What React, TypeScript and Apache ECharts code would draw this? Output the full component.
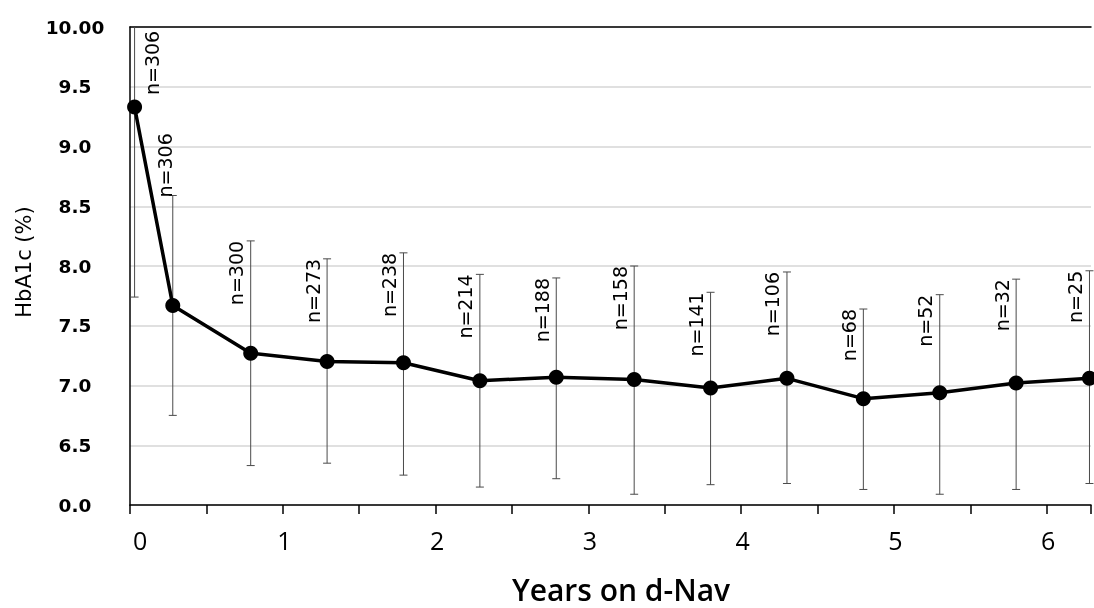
import { useEffect, useRef } from "react";
import * as echarts from "echarts";

// ---- data ----
const years = [0.03, 0.28, 0.79, 1.29, 1.79, 2.29, 2.79, 3.3, 3.8, 4.3, 4.8, 5.3, 5.8, 6.28];
const hba1cMean = [9.33, 7.67, 7.27, 7.2, 7.19, 7.04, 7.07, 7.05, 6.98, 7.06, 6.89, 6.94, 7.02, 7.06];
const errUpper = [10.92, 8.59, 8.21, 8.06, 8.11, 7.93, 7.9, 8.0, 7.78, 7.95, 7.64, 7.76, 7.89, 7.96];
const errLower = [7.74, 6.75, 6.33, 6.35, 6.25, 6.15, 6.22, 6.09, 6.17, 6.18, 6.13, 6.09, 6.13, 6.18];
const nPatients = [306, 306, 300, 273, 238, 214, 188, 158, 141, 106, 68, 52, 32, 25];
const yTickLabels = ["0.0", "6.5", "7.0", "7.5", "8.0", "8.5", "9.0", "9.5", "10.00"];
const xTickLabels = ["0", "1", "2", "3", "4", "5", "6"];

const Y_MIN = 6;
const Y_MAX = 10;
const X_MAX = 6.29;

export default function App() {
  const ref = useRef<HTMLDivElement>(null);

  useEffect(() => {
    const chart = echarts.init(ref.current!, null, { renderer: "svg" });

    const linePts = years.map((x, i) => [x, hba1cMean[i]]);
    const errData = years.map((x, i) => [x, errLower[i], errUpper[i]]);
    const labelData = years.map((x, i) => [x, errUpper[i], nPatients[i], hba1cMean[i]]);

    const axisColor = "#000";

    chart.setOption({
      animation: false,
      grid: { left: 130, top: 27, right: -1, bottom: 103, containLabel: false },
      xAxis: [
        {
          type: "value",
          min: 0,
          max: X_MAX,
          interval: 0.5,
          axisLine: { show: true, onZero: false, lineStyle: { color: axisColor, width: 1.5 } },
          axisTick: { show: true, length: 9, lineStyle: { color: axisColor, width: 1.5 } },
          axisLabel: {
            formatter: (v: number) => {
              const r = Math.round(v);
              return Math.abs(v - r) < 1e-6 && xTickLabels[r] !== undefined ? xTickLabels[r] : "";
            },
            fontFamily: "Open Sans",
            fontSize: 25,
            color: "#000",
            margin: 22,
            alignMinLabel: "left",
            padding: [0, 0, 0, 3],
          },
          splitLine: { show: false },
        },
        {
          type: "value",
          position: "top",
          min: 0,
          max: X_MAX,
          axisLine: { show: true, onZero: false, lineStyle: { color: axisColor, width: 1.5 } },
          axisTick: { show: false },
          axisLabel: { show: false },
          splitLine: { show: false },
        },
      ],
      yAxis: {
        type: "value",
        min: Y_MIN,
        max: Y_MAX,
        interval: 0.5,
        axisLine: { show: true, onZero: false, lineStyle: { color: axisColor, width: 1.5 } },
        axisTick: { show: false },
        axisLabel: {
          formatter: (v: number) => yTickLabels[Math.round((v - Y_MIN) / 0.5)] ?? "",
          fontFamily: "DejaVu Sans",
          fontWeight: "bold",
          fontSize: 18.5,
          color: "#000",
          margin: 55,
          align: "center",
        },
        splitLine: { show: true, lineStyle: { color: "#d6d6d6", width: 1.5 } },
      },
      graphic: [
        {
          type: "text",
          x: 24,
          y: 262,
          rotation: Math.PI / 2,
          style: {
            text: "HbA1c (%)",
            align: "center",
            verticalAlign: "middle",
            textAlign: "center",
            textVerticalAlign: "middle",
            fontFamily: "DejaVu Sans",
            fontSize: 21,
            fill: "#000",
          },
        },
        {
          type: "text",
          x: 621,
          y: 589,
          style: {
            text: "Years on d-Nav",
            align: "center",
            verticalAlign: "middle",
            textAlign: "center",
            textVerticalAlign: "middle",
            fontFamily: "Open Sans",
            fontWeight: 600,
            fontSize: 30,
            fill: "#000",
          },
        },
      ],
      series: [
        {
          type: "custom",
          name: "error",
          z: 1,
          data: errData,
          encode: { x: 0, y: [1, 2] },
          renderItem: (params: any, api: any) => {
            const x = api.value(0);
            const lo = api.value(1);
            const hi = api.value(2);
            const hiC = Math.min(hi, Y_MAX);
            const pLo = api.coord([x, lo]);
            const pHi = api.coord([x, hiC]);
            const capW = 4;
            const style = { stroke: "#4a4a4a", lineWidth: 1 };
            const children: any[] = [
              { type: "line", shape: { x1: pLo[0], y1: pLo[1], x2: pHi[0], y2: pHi[1] }, style },
              { type: "line", shape: { x1: pLo[0] - capW, y1: pLo[1], x2: pLo[0] + capW, y2: pLo[1] }, style },
            ];
            if (hi <= Y_MAX) {
              children.push({
                type: "line",
                shape: { x1: pHi[0] - capW, y1: pHi[1], x2: pHi[0] + capW, y2: pHi[1] },
                style,
              });
            }
            return { type: "group", children };
          },
        },
        {
          type: "line",
          name: "HbA1c",
          z: 3,
          data: linePts,
          symbol: "circle",
          symbolSize: 15,
          lineStyle: { color: "#000", width: 3.5 },
          itemStyle: { color: "#000" },
        },
        {
          type: "custom",
          name: "labels",
          z: 4,
          data: labelData,
          encode: { x: 0, y: 1 },
          renderItem: (params: any, api: any) => {
            const i = params.dataIndex;
            const x = api.value(0);
            const hi = Math.min(api.value(1), Y_MAX);
            const n = api.value(2);
            const mean = api.value(3);
            let px: number;
            let py: number;
            let align = "right";
            if (i === 0) {
              const p = api.coord([x, mean]);
              px = p[0] + 17;
              py = p[1] - 12;
              align = "left";
            } else if (i === 1) {
              const p = api.coord([x, hi]);
              px = p[0] - 8;
              py = p[1] + 2;
              align = "left";
            } else {
              const p = api.coord([x, hi]);
              px = p[0] - 14.5;
              py = p[1];
            }
            return {
              type: "text",
              x: px,
              y: py,
              rotation: Math.PI / 2,
              style: {
                text: "n=" + n,
                align,
                verticalAlign: "middle",
                textAlign: align,
                textVerticalAlign: "middle",
                fontFamily: "DejaVu Sans",
                fontSize: 19,
                fill: "#000",
              },
            };
          },
        },
      ],
    });

    return () => {
      chart.dispose();
    };
  }, []);

  return (
    <div
      ref={ref}
      style={{ position: "fixed", left: 0, top: 0, width: 1094, height: 608 }}
    />
  );
}
